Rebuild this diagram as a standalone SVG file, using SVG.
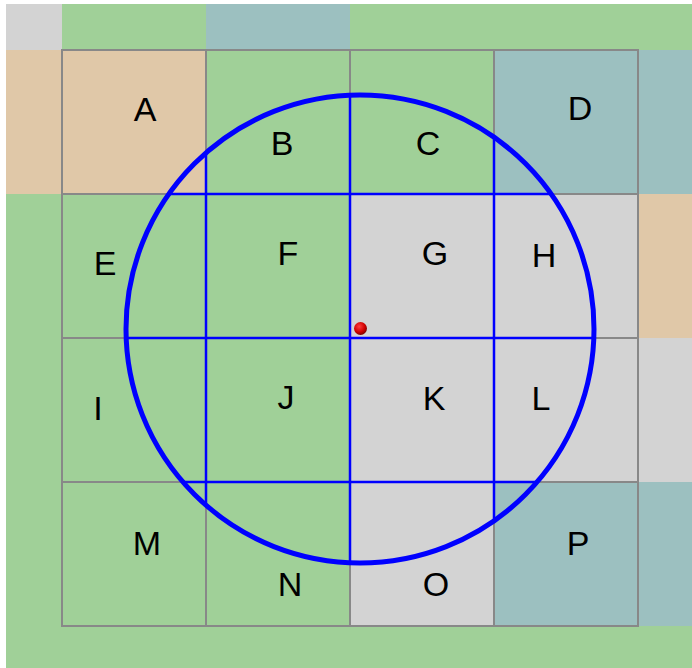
<svg xmlns="http://www.w3.org/2000/svg" width="692" height="668" viewBox="0 0 692 668">
<style>
.g{fill:#a0d098}.t{fill:#e0c8a8}.q{fill:#9cc0c0}.y{fill:#d3d3d3}
.cell{stroke:#888;stroke-width:2}
.lbl{font-family:"Liberation Sans",Arial,sans-serif;font-size:34px;fill:#000;text-anchor:middle}
.bl{stroke:#0000ff;stroke-width:2.5;fill:none}
</style>
<defs>
<clipPath id="cc"><circle cx="360" cy="329" r="234"/></clipPath>
<radialGradient id="rd" cx="0.4" cy="0.35" r="0.7">
<stop offset="0" stop-color="#ff4040"/><stop offset="0.6" stop-color="#d00000"/><stop offset="1" stop-color="#700000"/>
</radialGradient>
</defs>
<rect width="692" height="668" fill="#fff"/>
<g id="surround">
<rect x="6" y="4" width="56" height="46" class="y"/>
<rect x="62" y="4" width="144" height="46" class="g"/>
<rect x="206" y="4" width="144" height="46" class="q"/>
<rect x="350" y="4" width="342" height="46" class="g"/>
<rect x="6" y="50" width="56" height="144" class="t"/>
<rect x="6" y="194" width="56" height="474" class="g"/>
<rect x="638" y="50" width="54" height="144" class="q"/>
<rect x="638" y="194" width="54" height="144" class="t"/>
<rect x="638" y="338" width="54" height="144" class="y"/>
<rect x="638" y="482" width="54" height="144" class="q"/>
<rect x="62" y="626" width="630" height="42" class="g"/>
</g>
<g id="A"><rect x="62" y="50" width="144" height="144" class="cell t"/><text x="145" y="121" class="lbl">A</text></g>
<g id="B"><rect x="206" y="50" width="144" height="144" class="cell g"/><text x="282" y="155" class="lbl">B</text></g>
<g id="C"><rect x="350" y="50" width="144" height="144" class="cell g"/><text x="428" y="155" class="lbl">C</text></g>
<g id="D"><rect x="494" y="50" width="144" height="144" class="cell q"/><text x="580" y="120" class="lbl">D</text></g>
<g id="E"><rect x="62" y="194" width="144" height="144" class="cell g"/><text x="105" y="275" class="lbl">E</text></g>
<g id="F"><rect x="206" y="194" width="144" height="144" class="cell g"/><text x="288" y="265" class="lbl">F</text></g>
<g id="G"><rect x="350" y="194" width="144" height="144" class="cell y"/><text x="435" y="265" class="lbl">G</text></g>
<g id="H"><rect x="494" y="194" width="144" height="144" class="cell y"/><text x="544" y="267" class="lbl">H</text></g>
<g id="I"><rect x="62" y="338" width="144" height="144" class="cell g"/><text x="98" y="420" class="lbl">I</text></g>
<g id="J"><rect x="206" y="338" width="144" height="144" class="cell g"/><text x="286" y="409" class="lbl">J</text></g>
<g id="K"><rect x="350" y="338" width="144" height="144" class="cell y"/><text x="434" y="410" class="lbl">K</text></g>
<g id="L"><rect x="494" y="338" width="144" height="144" class="cell y"/><text x="541" y="410" class="lbl">L</text></g>
<g id="M"><rect x="62" y="482" width="144" height="144" class="cell g"/><text x="147" y="555" class="lbl">M</text></g>
<g id="N"><rect x="206" y="482" width="144" height="144" class="cell g"/><text x="290" y="596" class="lbl">N</text></g>
<g id="O"><rect x="350" y="482" width="144" height="144" class="cell y"/><text x="436" y="596" class="lbl">O</text></g>
<g id="P"><rect x="494" y="482" width="144" height="144" class="cell q"/><text x="578" y="555" class="lbl">P</text></g>
<g id="connectors">
<g clip-path="url(#cc)" class="bl">
<line x1="206" y1="0" x2="206" y2="668"/>
<line x1="350" y1="0" x2="350" y2="668"/>
<line x1="494" y1="0" x2="494" y2="668"/>
<line x1="0" y1="194" x2="692" y2="194"/>
<line x1="0" y1="338" x2="692" y2="338"/>
<line x1="0" y1="482" x2="692" y2="482"/>
</g>
<circle cx="360" cy="329" r="234" fill="none" stroke="#0000ff" stroke-width="5"/>
</g>
<g id="center"><circle cx="360.5" cy="328.5" r="6.5" fill="url(#rd)"/></g>
</svg>
